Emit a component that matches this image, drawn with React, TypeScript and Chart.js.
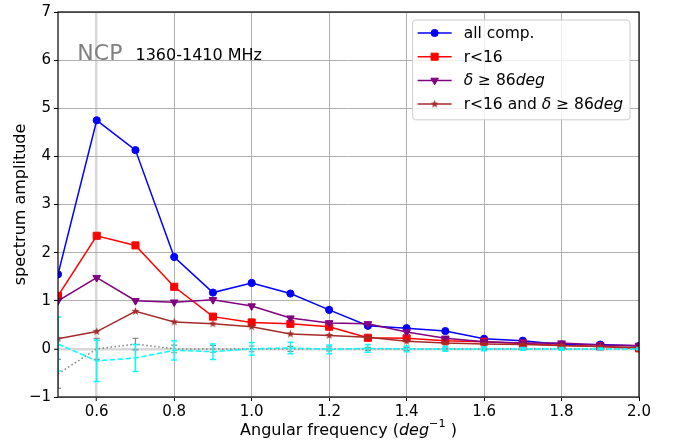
import React, { useEffect, useRef } from 'react';
import { Chart, registerables } from 'chart.js';

Chart.register(...registerables);

// ---------- data ----------
const FREQ = [0.5, 0.6, 0.7, 0.8, 0.9, 1.0, 1.1, 1.2, 1.3, 1.4, 1.5, 1.6, 1.7, 1.8, 1.9, 2.0];
const ALL_COMP = [1.55, 4.75, 4.13, 1.91, 1.17, 1.37, 1.15, 0.81, 0.48, 0.43, 0.37, 0.21, 0.17, 0.09, 0.09, 0.06];
const R16 = [1.1, 2.35, 2.15, 1.29, 0.67, 0.55, 0.52, 0.46, 0.23, 0.22, 0.17, 0.15, 0.11, 0.07, 0.05, 0.01];
const DELTA86 = [1.0, 1.48, 1.0, 0.97, 1.02, 0.89, 0.64, 0.54, 0.52, 0.35, 0.22, 0.15, 0.12, 0.12, 0.08, 0.07];
const R16_DELTA86 = [0.21, 0.36, 0.78, 0.56, 0.52, 0.46, 0.31, 0.28, 0.24, 0.16, 0.12, 0.1, 0.09, 0.07, 0.05, 0.03];
const NOISE = [0.1, -0.25, -0.19, -0.03, -0.06, 0.0, 0.02, -0.01, 0.01, 0.0, 0.0, 0.0, 0.0, 0.0, 0.0, 0.0];
const NOISE_ERR = [0.56, 0.43, 0.28, 0.2, 0.16, 0.13, 0.12, 0.09, 0.08, 0.06, 0.05, 0.04, 0.03, 0.03, 0.02, 0.02];
const NULL_TEST = [-0.52, 0.0, 0.1, 0.0, 0.0, 0.0, 0.0, 0.0, 0.0, 0.0, 0.0, 0.0, 0.0, 0.0, 0.0, 0.0];
const NULL_ERR = [0.3, 0.22, 0.12, 0.08, 0.07, 0.06, 0.05, 0.04, 0.03, 0.03, 0.02, 0.02, 0.02, 0.01, 0.01, 0.01];
const X_TICKS = [0.6, 0.8, 1.0, 1.2, 1.4, 1.6, 1.8, 2.0];
const Y_TICKS = [-1, 0, 1, 2, 3, 4, 5, 6, 7];
const FIELD_LABEL = 'NCP';
const BAND_LABEL = '1360-1410 MHz';
const FIELD_POS = { x: 0.55, y: 6 };
const BAND_POS = { x: 0.7, y: 6 };

type Seg = { t: string; it?: boolean; sup?: boolean };
const LEGEND_LABELS: Seg[][] = [
  [{ t: 'all comp.' }],
  [{ t: 'r<16' }],
  [{ t: 'δ', it: true }, { t: ' ≥ 86' }, { t: 'deg', it: true }],
  [{ t: 'r<16 and ' }, { t: 'δ', it: true }, { t: ' ≥ 86' }, { t: 'deg', it: true }],
];
const X_TITLE: Seg[] = [{ t: 'Angular frequency (' }, { t: 'deg', it: true }, { t: '−1', sup: true }, { t: ' )' }];
const Y_TITLE = 'spectrum amplitude';

const FONT = "'DejaVu Sans', sans-serif";

function makeStar(color: string, outer: number) {
  const size = Math.ceil(outer * 2 + 2);
  const c = document.createElement('canvas');
  c.width = size;
  c.height = size;
  const g = c.getContext('2d')!;
  const cx = size / 2, cy = size / 2, inner = outer * 0.42;
  g.beginPath();
  for (let i = 0; i < 10; i++) {
    const r = i % 2 === 0 ? outer : inner;
    const a = -Math.PI / 2 + (i * Math.PI) / 5;
    const px = cx + r * Math.cos(a), py = cy + r * Math.sin(a);
    if (i === 0) g.moveTo(px, py); else g.lineTo(px, py);
  }
  g.closePath();
  g.fillStyle = color;
  g.fill();
  return c;
}

function richWidth(ctx: CanvasRenderingContext2D, segs: Seg[], size: number) {
  let w = 0;
  for (const s of segs) {
    const fs = s.sup ? size * 0.7 : size;
    ctx.font = `${s.it ? 'italic ' : ''}${fs}px ${FONT}`;
    w += ctx.measureText(s.t).width;
  }
  return w;
}

function drawRich(ctx: CanvasRenderingContext2D, segs: Seg[], x: number, y: number, size: number) {
  let cx = x;
  for (const s of segs) {
    const fs = s.sup ? size * 0.7 : size;
    ctx.font = `${s.it ? 'italic ' : ''}${fs}px ${FONT}`;
    ctx.fillText(s.t, cx, s.sup ? y - size * 0.42 : y);
    cx += ctx.measureText(s.t).width;
  }
}

function drawMarker(ctx: CanvasRenderingContext2D, ds: any, x: number, y: number) {
  const st = ds.pointStyle;
  const r = ds.pointRadius;
  ctx.fillStyle = ds.pointBackgroundColor;
  ctx.strokeStyle = ds.pointBorderColor;
  ctx.lineWidth = 1;
  ctx.setLineDash([]);
  if (st instanceof HTMLCanvasElement) {
    ctx.drawImage(st, x - st.width / 2, y - st.height / 2);
    return;
  }
  ctx.beginPath();
  if (st === 'circle') {
    ctx.arc(x, y, r, 0, Math.PI * 2);
  } else if (st === 'rect') {
    const s = r * Math.SQRT1_2;
    ctx.rect(x - s, y - s, 2 * s, 2 * s);
  } else if (st === 'triangle') {
    const rot = ((ds.pointRotation || 0) * Math.PI) / 180;
    for (let k = 0; k < 3; k++) {
      const a = rot + (k * 2 * Math.PI) / 3;
      const px = x + Math.sin(a) * r, py = y - Math.cos(a) * r;
      if (k === 0) ctx.moveTo(px, py); else ctx.lineTo(px, py);
    }
    ctx.closePath();
  }
  ctx.fill();
  ctx.stroke();
}

const overlayPlugin = {
  id: 'overlay',
  afterDatasetDraw(chart: any, args: any) {
    const ds = chart.data.datasets[args.index];
    if (!ds.errors) return;
    const { ctx, chartArea: ca, scales } = chart;
    const xs = scales.x, ys = scales.y;
    ctx.save();
    ctx.beginPath();
    ctx.rect(ca.left, ca.top, ca.right - ca.left, ca.bottom - ca.top);
    ctx.clip();
    ctx.strokeStyle = ds.errorColor;
    ctx.lineWidth = ds.errorWidth;
    ctx.setLineDash([]);
    ds.data.forEach((p: any, i: number) => {
      const e = ds.errors[i];
      const px = xs.getPixelForValue(p.x);
      const t = ys.getPixelForValue(p.y + e);
      const b = ys.getPixelForValue(p.y - e);
      ctx.beginPath();
      ctx.moveTo(px, t); ctx.lineTo(px, b);
      ctx.moveTo(px - 3, t); ctx.lineTo(px + 3, t);
      ctx.moveTo(px - 3, b); ctx.lineTo(px + 3, b);
      ctx.stroke();
    });
    ctx.restore();
  },
  afterDraw(chart: any) {
    const { ctx, chartArea: ca, scales } = chart;
    const xs = scales.x, ys = scales.y;
    ctx.save();
    // frame
    ctx.strokeStyle = '#000';
    ctx.lineWidth = 1.2;
    ctx.setLineDash([]);
    ctx.strokeRect(ca.left, ca.top, ca.right - ca.left, ca.bottom - ca.top);

    // annotations
    ctx.textBaseline = 'alphabetic';
    ctx.textAlign = 'left';
    ctx.fillStyle = '#808080';
    ctx.font = `22px ${FONT}`;
    ctx.fillText(FIELD_LABEL, xs.getPixelForValue(FIELD_POS.x), ys.getPixelForValue(FIELD_POS.y));
    ctx.fillStyle = '#000';
    ctx.font = `16px ${FONT}`;
    ctx.fillText(BAND_LABEL, xs.getPixelForValue(BAND_POS.x), ys.getPixelForValue(BAND_POS.y));

    // axis titles
    const tfs = 16;
    ctx.fillStyle = '#000';
    const xw = richWidth(ctx, X_TITLE, tfs);
    ctx.textBaseline = 'middle';
    drawRich(ctx, X_TITLE, (ca.left + ca.right) / 2 - xw / 2, 431, tfs);
    ctx.save();
    ctx.translate(21, (ca.top + ca.bottom) / 2);
    ctx.rotate(-Math.PI / 2);
    ctx.textAlign = 'center';
    ctx.font = `${tfs}px ${FONT}`;
    ctx.fillText(Y_TITLE, 0, 0);
    ctx.restore();

    // legend
    const fs = 15.5;
    const legendSets = chart.data.datasets.filter((d: any) => d.inLegend);
    let maxW = 0;
    LEGEND_LABELS.forEach((l) => { maxW = Math.max(maxW, richWidth(ctx, l, fs)); });
    const bw = 51 + maxW + 7;
    const rowH = 23.7;
    const bh = rowH * legendSets.length + 5;
    const bx = ca.right - 9 - bw;
    const by = ca.top + 8;
    ctx.beginPath();
    (ctx as any).roundRect(bx, by, bw, bh, 3);
    ctx.fillStyle = 'rgba(255,255,255,0.8)';
    ctx.fill();
    ctx.strokeStyle = '#cccccc';
    ctx.lineWidth = 1;
    ctx.stroke();
    legendSets.forEach((d: any, i: number) => {
      const cy = by + 13 + i * rowH;
      ctx.strokeStyle = d.borderColor;
      ctx.lineWidth = d.borderWidth;
      ctx.setLineDash([]);
      ctx.beginPath();
      ctx.moveTo(bx + 5, cy);
      ctx.lineTo(bx + 39, cy);
      ctx.stroke();
      drawMarker(ctx, d, bx + 22, cy);
      ctx.fillStyle = '#000';
      ctx.textBaseline = 'middle';
      ctx.textAlign = 'left';
      drawRich(ctx, LEGEND_LABELS[i], bx + 51, cy + 1, fs);
    });
    ctx.restore();
  },
};

function series(ys: number[]) {
  return FREQ.map((x, i) => ({ x, y: ys[i] }));
}

export default function App() {
  const ref = useRef<HTMLCanvasElement>(null);
  useEffect(() => {
    const canvas = ref.current!;
    const star = makeStar('#a52a2a', 4.2);
    const mk = (label: string, data: number[], color: string, style: any, radius: number, order: number, rotation = 0) => ({
      label,
      data: series(data),
      borderColor: color,
      backgroundColor: color,
      pointBackgroundColor: color,
      pointBorderColor: color,
      pointBorderWidth: 1,
      pointStyle: style,
      pointRadius: radius,
      pointRotation: rotation,
      borderWidth: 1.5,
      tension: 0,
      clip: 0,
      order,
      inLegend: true,
    });
    const chart = new Chart(canvas, {
      type: 'line',
      data: {
        datasets: [
          mk('all comp.', ALL_COMP, '#0000ff', 'circle', 3.6, 6),
          mk('r<16', R16, '#ff0000', 'rect', 5, 5),
          mk('δ ≥ 86deg', DELTA86, '#800080', 'triangle', 4.4, 4, 180),
          mk('r<16 and δ ≥ 86deg', R16_DELTA86, '#a52a2a', star, 4, 3),
          {
            label: 'null',
            data: series(NULL_TEST),
            borderColor: '#808080',
            borderWidth: 1.5,
            borderDash: [1.5, 2.5],
            pointRadius: 0,
            clip: 0,
            order: 2,
            errors: NULL_ERR,
            errorColor: '#8a8a8a',
            errorWidth: 1.2,
          } as any,
          {
            label: 'noise',
            data: series(NOISE),
            borderColor: '#00ffff',
            borderWidth: 1.5,
            borderDash: [5.5, 2.4],
            pointRadius: 0,
            clip: 0,
            order: 1,
            errors: NOISE_ERR,
            errorColor: '#00ffff',
            errorWidth: 1.5,
          } as any,
        ] as any,
      },
      options: {
        animation: false,
        responsive: false,
        devicePixelRatio: 1,
        layout: { padding: { left: 0, top: 12, right: 42, bottom: 0 } },
        plugins: { legend: { display: false }, tooltip: { enabled: false } },
        scales: {
          x: {
            type: 'linear',
            min: 0.5,
            max: 2.0,
            afterBuildTicks: (s: any) => { s.ticks = X_TICKS.map((v) => ({ value: v })); },
            afterFit: (s: any) => { s.height = 45; },
            border: { display: false },
            grid: {
              color: (c: any) => (c.tick && Math.abs(c.tick.value - 0.6) < 1e-9 ? '#d8d8d8' : '#b0b0b0'),
              lineWidth: (c: any) => (c.tick && Math.abs(c.tick.value - 0.6) < 1e-9 ? 2.5 : 1),
              tickColor: '#000',
              tickLength: 4,
              tickWidth: 1,
            },
            ticks: {
              font: { family: FONT, size: 15 },
              color: '#000',
              padding: 2,
              maxRotation: 0,
              callback: (v: any) => Number(v).toFixed(1),
            },
          },
          y: {
            type: 'linear',
            min: -1,
            max: 7,
            afterBuildTicks: (s: any) => { s.ticks = Y_TICKS.map((v) => ({ value: v })); },
            afterFit: (s: any) => { s.width = 58; },
            border: { display: false },
            grid: {
              color: (c: any) => (c.tick && c.tick.value === 0 ? '#d8d8d8' : '#b0b0b0'),
              lineWidth: (c: any) => (c.tick && c.tick.value === 0 ? 2.5 : 1),
              tickColor: '#000',
              tickLength: 4,
              tickWidth: 1,
            },
            ticks: {
              font: { family: FONT, size: 15 },
              color: '#000',
              padding: 3,
              callback: (v: any) => (Number(v) < 0 ? '−' + Math.abs(Number(v)) : String(v)),
            },
          },
        },
      } as any,
      plugins: [overlayPlugin as any],
    });
    return () => chart.destroy();
  }, []);
  return (
    <div style={{ position: 'fixed', left: 0, top: 0, width: 681, height: 442, background: '#fff' }}>
      <canvas ref={ref} width={681} height={442} style={{ width: 681, height: 442, display: 'block' }} />
    </div>
  );
}
